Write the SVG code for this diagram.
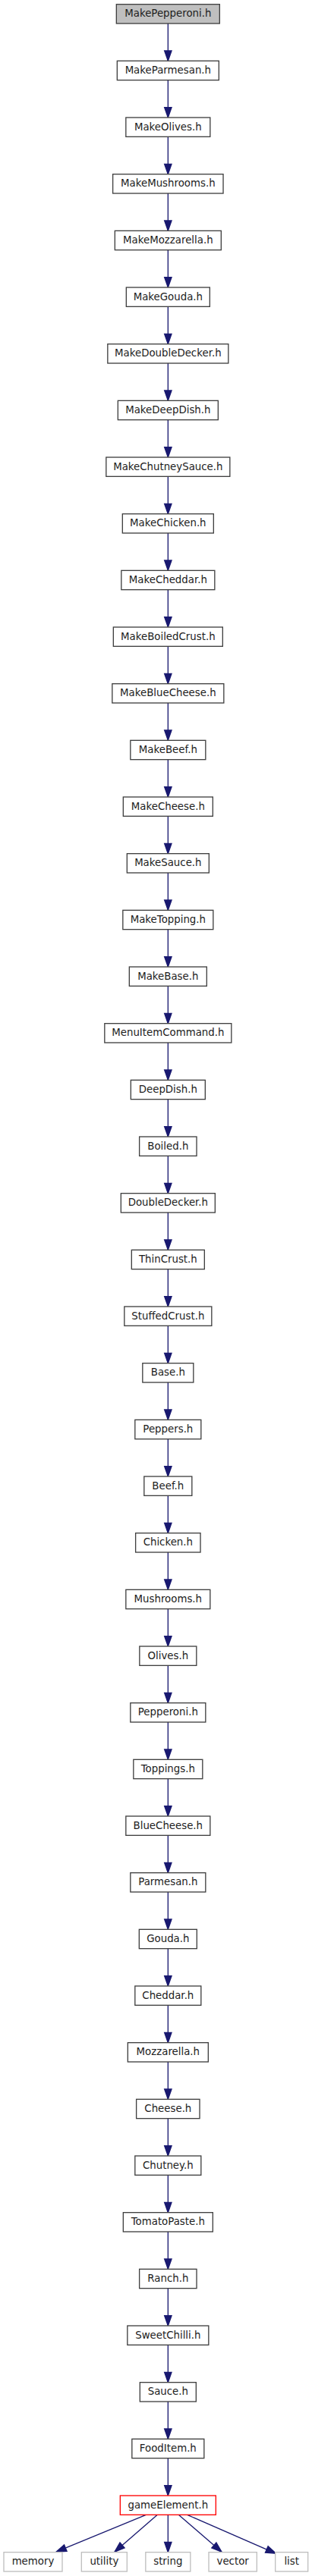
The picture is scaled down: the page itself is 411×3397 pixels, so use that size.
<svg xmlns="http://www.w3.org/2000/svg" width="411" height="3397" viewBox="0 0 411 3397">
<style>
.n rect{fill:#ffffff;stroke:#404040;stroke-width:1.33}
.n text{font-family:"DejaVu Sans","Liberation Sans",sans-serif;font-size:13.33px;fill:#1c1c1c;text-anchor:middle}
#n0 rect{fill:#bfbfbf}
#n44 rect{stroke:#ff0000}
.leaf rect{stroke:#bfbfbf}
#edges path{fill:none;stroke:#191970;stroke-width:1.33;marker-end:url(#ah)}
</style>
<defs>
<marker id="ah" markerUnits="userSpaceOnUse" orient="auto" refX="13.33" refY="0" markerWidth="16" markerHeight="12" overflow="visible">
<polygon points="0,-4.67 13.33,0 0,4.67" fill="#191970" stroke="#191970" stroke-width="1.33"/>
</marker>
</defs>
<g id="edges">
<path d="M221.33,31V80.33"/>
<path d="M221.33,105.67V155"/>
<path d="M221.33,180.33V229.67"/>
<path d="M221.33,255V304.33"/>
<path d="M221.33,329.67V379"/>
<path d="M221.33,404.33V453.67"/>
<path d="M221.33,479V528.33"/>
<path d="M221.33,553.67V603"/>
<path d="M221.33,628.33V677.67"/>
<path d="M221.33,703V752.33"/>
<path d="M221.33,777.67V827"/>
<path d="M221.33,852.33V901.67"/>
<path d="M221.33,927V976.33"/>
<path d="M221.33,1001.67V1051"/>
<path d="M221.33,1076.33V1125.67"/>
<path d="M221.33,1151V1200.33"/>
<path d="M221.33,1225.67V1275"/>
<path d="M221.33,1300.33V1349.67"/>
<path d="M221.33,1375V1424.33"/>
<path d="M221.33,1449.67V1499"/>
<path d="M221.33,1524.33V1573.67"/>
<path d="M221.33,1599V1648.33"/>
<path d="M221.33,1673.67V1723"/>
<path d="M221.33,1748.33V1797.67"/>
<path d="M221.33,1823V1872.33"/>
<path d="M221.33,1897.67V1947"/>
<path d="M221.33,1972.33V2021.67"/>
<path d="M221.33,2047V2096.33"/>
<path d="M221.33,2121.67V2171"/>
<path d="M221.33,2196.33V2245.67"/>
<path d="M221.33,2271V2320.33"/>
<path d="M221.33,2345.67V2395"/>
<path d="M221.33,2420.33V2469.67"/>
<path d="M221.33,2495V2544.33"/>
<path d="M221.33,2569.67V2619"/>
<path d="M221.33,2644.33V2693.67"/>
<path d="M221.33,2719V2768.33"/>
<path d="M221.33,2793.67V2843"/>
<path d="M221.33,2868.33V2917.67"/>
<path d="M221.33,2943V2992.33"/>
<path d="M221.33,3017.67V3067"/>
<path d="M221.33,3092.33V3141.67"/>
<path d="M221.33,3167V3216.33"/>
<path d="M221.33,3241.67V3291"/>
<path d="M192.3,3316.33L74,3365.2"/>
<path d="M207.3,3316.33L151,3365.2"/>
<path d="M221.33,3316.33V3365.67"/>
<path d="M235.3,3316.33L292,3365.2"/>
<path d="M246.7,3316.33L363.5,3367.3"/>
</g>
<g id="n0" class="n" transform="translate(0,5.67)"><rect x="153.33" y="0" width="136" height="25.33"/><text x="221.33" y="16.8">MakePepperoni.h</text></g>
<g id="n1" class="n" transform="translate(0,80.33)"><rect x="154.33" y="0" width="134" height="25.33"/><text x="221.33" y="16.8">MakeParmesan.h</text></g>
<g id="n2" class="n" transform="translate(0,155)"><rect x="165.83" y="0" width="111" height="25.33"/><text x="221.33" y="16.8">MakeOlives.h</text></g>
<g id="n3" class="n" transform="translate(0,229.67)"><rect x="148.63" y="0" width="145.4" height="25.33"/><text x="221.33" y="16.8">MakeMushrooms.h</text></g>
<g id="n4" class="n" transform="translate(0,304.33)"><rect x="151.33" y="0" width="140" height="25.33"/><text x="221.33" y="16.8">MakeMozzarella.h</text></g>
<g id="n5" class="n" transform="translate(0,379)"><rect x="166.33" y="0" width="110" height="25.33"/><text x="221.33" y="16.8">MakeGouda.h</text></g>
<g id="n6" class="n" transform="translate(0,453.67)"><rect x="141.83" y="0" width="159" height="25.33"/><text x="221.33" y="16.8">MakeDoubleDecker.h</text></g>
<g id="n7" class="n" transform="translate(0,528.33)"><rect x="155.33" y="0" width="132" height="25.33"/><text x="221.33" y="16.8">MakeDeepDish.h</text></g>
<g id="n8" class="n" transform="translate(0,603)"><rect x="139.83" y="0" width="163" height="25.33"/><text x="221.33" y="16.8">MakeChutneySauce.h</text></g>
<g id="n9" class="n" transform="translate(0,677.67)"><rect x="161.33" y="0" width="120" height="25.33"/><text x="221.33" y="16.8">MakeChicken.h</text></g>
<g id="n10" class="n" transform="translate(0,752.33)"><rect x="159.83" y="0" width="123" height="25.33"/><text x="221.33" y="16.8">MakeCheddar.h</text></g>
<g id="n11" class="n" transform="translate(0,827)"><rect x="149.33" y="0" width="144" height="25.33"/><text x="221.33" y="16.8">MakeBoiledCrust.h</text></g>
<g id="n12" class="n" transform="translate(0,901.67)"><rect x="147.83" y="0" width="147" height="25.33"/><text x="221.33" y="16.8">MakeBlueCheese.h</text></g>
<g id="n13" class="n" transform="translate(0,976.33)"><rect x="171.83" y="0" width="99" height="25.33"/><text x="221.33" y="16.8">MakeBeef.h</text></g>
<g id="n14" class="n" transform="translate(0,1051)"><rect x="162.33" y="0" width="118" height="25.33"/><text x="221.33" y="16.8">MakeCheese.h</text></g>
<g id="n15" class="n" transform="translate(0,1125.67)"><rect x="167.33" y="0" width="108" height="25.33"/><text x="221.33" y="16.8">MakeSauce.h</text></g>
<g id="n16" class="n" transform="translate(0,1200.33)"><rect x="161.83" y="0" width="119" height="25.33"/><text x="221.33" y="16.8">MakeTopping.h</text></g>
<g id="n17" class="n" transform="translate(0,1275)"><rect x="170.33" y="0" width="102" height="25.33"/><text x="221.33" y="16.8">MakeBase.h</text></g>
<g id="n18" class="n" transform="translate(0,1349.67)"><rect x="137.83" y="0" width="167" height="25.33"/><text x="221.33" y="16.8">MenuItemCommand.h</text></g>
<g id="n19" class="n" transform="translate(0,1424.33)"><rect x="172.33" y="0" width="98" height="25.33"/><text x="221.33" y="16.8">DeepDish.h</text></g>
<g id="n20" class="n" transform="translate(0,1499)"><rect x="183.63" y="0" width="75.4" height="25.33"/><text x="221.33" y="16.8">Boiled.h</text></g>
<g id="n21" class="n" transform="translate(0,1573.67)"><rect x="159.33" y="0" width="124" height="25.33"/><text x="221.33" y="16.8">DoubleDecker.h</text></g>
<g id="n22" class="n" transform="translate(0,1648.33)"><rect x="173.33" y="0" width="96" height="25.33"/><text x="221.33" y="16.8">ThinCrust.h</text></g>
<g id="n23" class="n" transform="translate(0,1723)"><rect x="163.83" y="0" width="115" height="25.33"/><text x="221.33" y="16.8">StuffedCrust.h</text></g>
<g id="n24" class="n" transform="translate(0,1797.67)"><rect x="187.83" y="0" width="67" height="25.33"/><text x="221.33" y="16.8">Base.h</text></g>
<g id="n25" class="n" transform="translate(0,1872.33)"><rect x="177.83" y="0" width="87" height="25.33"/><text x="221.33" y="16.8">Peppers.h</text></g>
<g id="n26" class="n" transform="translate(0,1947)"><rect x="189.83" y="0" width="63" height="25.33"/><text x="221.33" y="16.8">Beef.h</text></g>
<g id="n27" class="n" transform="translate(0,2021.67)"><rect x="178.63" y="0" width="85.4" height="25.33"/><text x="221.33" y="16.8">Chicken.h</text></g>
<g id="n28" class="n" transform="translate(0,2096.33)"><rect x="165.83" y="0" width="111" height="25.33"/><text x="221.33" y="16.8">Mushrooms.h</text></g>
<g id="n29" class="n" transform="translate(0,2171)"><rect x="183.83" y="0" width="75" height="25.33"/><text x="221.33" y="16.8">Olives.h</text></g>
<g id="n30" class="n" transform="translate(0,2245.67)"><rect x="171.83" y="0" width="99" height="25.33"/><text x="221.33" y="16.8">Pepperoni.h</text></g>
<g id="n31" class="n" transform="translate(0,2320.33)"><rect x="175.83" y="0" width="91" height="25.33"/><text x="221.33" y="16.8">Toppings.h</text></g>
<g id="n32" class="n" transform="translate(0,2395)"><rect x="165.83" y="0" width="111" height="25.33"/><text x="221.33" y="16.8">BlueCheese.h</text></g>
<g id="n33" class="n" transform="translate(0,2469.67)"><rect x="171.83" y="0" width="99" height="25.33"/><text x="221.33" y="16.8">Parmesan.h</text></g>
<g id="n34" class="n" transform="translate(0,2544.33)"><rect x="183.33" y="0" width="76" height="25.33"/><text x="221.33" y="16.8">Gouda.h</text></g>
<g id="n35" class="n" transform="translate(0,2619)"><rect x="177.83" y="0" width="87" height="25.33"/><text x="221.33" y="16.8">Cheddar.h</text></g>
<g id="n36" class="n" transform="translate(0,2693.67)"><rect x="168.33" y="0" width="106" height="25.33"/><text x="221.33" y="16.8">Mozzarella.h</text></g>
<g id="n37" class="n" transform="translate(0,2768.33)"><rect x="179.63" y="0" width="83.4" height="25.33"/><text x="221.33" y="16.8">Cheese.h</text></g>
<g id="n38" class="n" transform="translate(0,2843)"><rect x="177.83" y="0" width="87" height="25.33"/><text x="221.33" y="16.8">Chutney.h</text></g>
<g id="n39" class="n" transform="translate(0,2917.67)"><rect x="162.33" y="0" width="118" height="25.33"/><text x="221.33" y="16.8">TomatoPaste.h</text></g>
<g id="n40" class="n" transform="translate(0,2992.33)"><rect x="183.63" y="0" width="75.4" height="25.33"/><text x="221.33" y="16.8">Ranch.h</text></g>
<g id="n41" class="n" transform="translate(0,3067)"><rect x="167.83" y="0" width="107" height="25.33"/><text x="221.33" y="16.8">SweetChilli.h</text></g>
<g id="n42" class="n" transform="translate(0,3141.67)"><rect x="184.33" y="0" width="74" height="25.33"/><text x="221.33" y="16.8">Sauce.h</text></g>
<g id="n43" class="n" transform="translate(0,3216.33)"><rect x="173.83" y="0" width="95" height="25.33"/><text x="221.33" y="16.8">FoodItem.h</text></g>
<g id="n44" class="n" transform="translate(0,3291)"><rect x="158.33" y="0" width="126" height="25.33"/><text x="221.33" y="16.8">gameElement.h</text></g>
<g id="n45" class="n leaf" transform="translate(0,3365.67)"><rect x="5" y="0" width="77" height="25.33"/><text x="43.5" y="16.8">memory</text></g>
<g id="n46" class="n leaf" transform="translate(0,3365.67)"><rect x="107.33" y="0" width="60" height="25.33"/><text x="137.33" y="16.8">utility</text></g>
<g id="n47" class="n leaf" transform="translate(0,3365.67)"><rect x="191.83" y="0" width="59" height="25.33"/><text x="221.33" y="16.8">string</text></g>
<g id="n48" class="n leaf" transform="translate(0,3365.67)"><rect x="275" y="0" width="63.33" height="25.33"/><text x="306.67" y="16.8">vector</text></g>
<g id="n49" class="n leaf" transform="translate(0,3365.67)"><rect x="362.67" y="0" width="43" height="25.33"/><text x="384.17" y="16.8">list</text></g>
</svg>
